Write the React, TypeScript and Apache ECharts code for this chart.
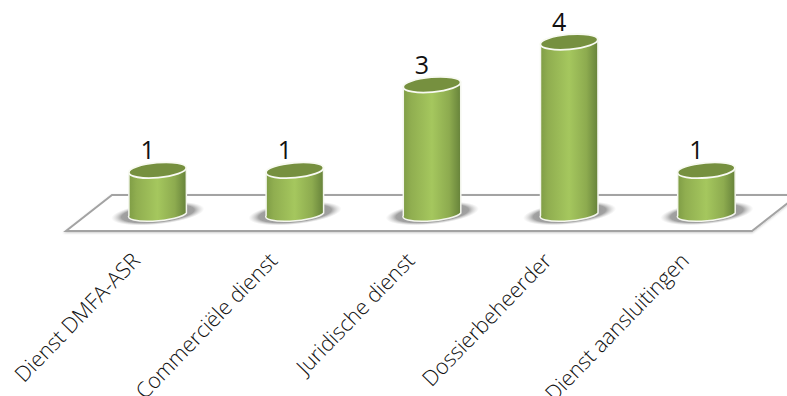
import React, { useEffect, useRef } from "react";
import * as echarts from "echarts";

const categories = [
  "Dienst DMFA-ASR",
  "Commerciële dienst",
  "Juridische dienst",
  "Dossierbeheerder",
  "Dienst aansluitingen",
];
const counts = [1, 1, 3, 4, 1];

const FONT = "'Open Sans', sans-serif";
const TILT = (5 * Math.PI) / 180;
const RY = 7.5;

// One cylinder: soft floor shadow, shaded body, darker top cap and the count above it.
function renderCylinder(params: any, api: any) {
  const [cx, top] = api.coord([api.value(0), api.value(1)]);
  const [, base] = api.coord([api.value(0), 0]);
  const rx = (api.size([1, 0])[0] * 0.42) / 2;
  const dx = rx * Math.cos(TILT);
  const dy = rx * Math.sin(TILT);
  const body =
    `M ${cx - dx} ${top + dy} L ${cx - dx} ${base + dy} ` +
    `A ${rx} ${RY - 1} -5 0 0 ${cx + dx} ${base - dy} L ${cx + dx} ${top - dy} Z`;
  return {
    type: "group",
    children: [
      {
        type: "ellipse",
        shape: { cx, cy: base + 0.5, rx: rx + 18, ry: 11 },
        rotation: TILT * 1.2,
        originX: cx,
        originY: base + 0.5,
        style: {
          fill: {
            type: "radial",
            x: 0.5,
            y: 0.5,
            r: 0.5,
            colorStops: [
              { offset: 0, color: "rgba(100,100,100,0.8)" },
              { offset: 0.78, color: "rgba(125,125,125,0.72)" },
              { offset: 1, color: "rgba(190,190,190,0)" },
            ],
          },
        },
      },
      {
        type: "path",
        shape: { pathData: body },
        style: {
          fill: {
            type: "linear",
            x: 0,
            y: 0,
            x2: 1,
            y2: 0,
            colorStops: [
              { offset: 0, color: "#7e9c45" },
              { offset: 0.14, color: "#90ae50" },
              { offset: 0.5, color: "#a5c75e" },
              { offset: 0.8, color: "#8dab4f" },
              { offset: 1, color: "#66823a" },
            ],
          },
          stroke: "#f4f6ee",
          lineWidth: 1.5,
        },
      },
      {
        type: "ellipse",
        shape: { cx, cy: top, rx, ry: RY },
        rotation: TILT,
        originX: cx,
        originY: top,
        style: { fill: "#76903f", stroke: "#f8faf2", lineWidth: 1.8 },
      },
      {
        type: "text",
        style: {
          text: String(api.value(1)),
          x: cx - 10,
          y: top - 21,
          align: "center",
          verticalAlign: "middle",
          font: `25px ${FONT}`,
          fill: "#111",
        },
      },
    ],
  };
}

export default function App() {
  const ref = useRef<HTMLDivElement>(null);

  useEffect(() => {
    const chart = echarts.init(ref.current!, null, { renderer: "svg" });
    chart.setOption({
      animation: false,
      backgroundColor: "#fff",
      grid: { left: 89, right: 12, top: -1, bottom: 183, outerBoundsMode: "none" },
      graphic: [
        {
          type: "polygon",
          z: 0,
          shape: { points: [[66, 231], [752, 231], [798, 195], [112, 195]] },
          style: {
            fill: "#fff",
            stroke: "#a3a3a3",
            lineWidth: 2,
            shadowBlur: 2,
            shadowColor: "rgba(0,0,0,0.2)",
            shadowOffsetY: 1,
          },
        },
      ],
      xAxis: {
        type: "category",
        data: categories,
        axisLine: { show: false },
        axisTick: { show: false },
        axisLabel: {
          interval: 0,
          rotate: 46,
          margin: 20,
          padding: [0, 32, 0, 0],
          fontFamily: FONT,
          fontSize: 21.5,
          fontWeight: 300,
          color: "#111",
        },
      },
      yAxis: { type: "value", min: 0, max: 5, show: false },
      series: [
        {
          type: "custom",
          z: 5,
          clip: false,
          renderItem: renderCylinder,
          encode: { x: 0, y: 1 },
          data: counts.map((v, i) => [i, v]),
        },
      ],
    });
    return () => chart.dispose();
  }, []);

  return (
    <div
      ref={ref}
      style={{ position: "fixed", left: 0, top: 0, width: 787, height: 396, overflow: "hidden" }}
    />
  );
}
